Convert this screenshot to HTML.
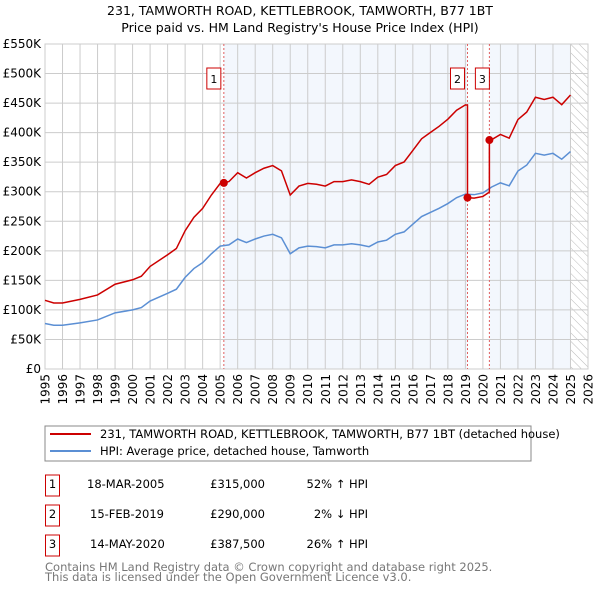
<!DOCTYPE html>
<html><head><meta charset="utf-8"><style>
body{margin:0;background:#fff;font-family:"Liberation Sans","DejaVu Sans",sans-serif;}
svg text{font-family:"DejaVu Sans","Liberation Sans",sans-serif;}
</style></head><body>
<svg id="c" width="600" height="590" viewBox="0 0 600 590">
<text x="300" y="15" text-anchor="middle" font-size="12.5">231, TAMWORTH ROAD, KETTLEBROOK, TAMWORTH, B77 1BT</text>
<text x="300" y="32" text-anchor="middle" font-size="12.5">Price paid vs. HM Land Registry's House Price Index (HPI)</text>
<defs><pattern id="h" width="6" height="6" patternUnits="userSpaceOnUse" patternTransform="rotate(-45)"><line x1="0" y1="0" x2="0" y2="6" stroke="#bbb" stroke-width="1"/></pattern></defs>
<g id="plot"></g>
<rect x="45" y="426" width="486" height="35" fill="#fff" stroke="#888"/>
<line x1="50" y1="434" x2="91" y2="434" stroke="#cc0000" stroke-width="2"/>
<text x="100" y="438" font-size="11.5">231, TAMWORTH ROAD, KETTLEBROOK, TAMWORTH, B77 1BT (detached house)</text>
<line x1="50" y1="451" x2="91" y2="451" stroke="#5b8fd4" stroke-width="2"/>
<text x="100" y="455" font-size="11.5">HPI: Average price, detached house, Tamworth</text>
<g font-size="11.5">
<rect x="45.5" y="475" width="14" height="21" fill="none" stroke="#cc0000"/><text x="52.5" y="488" text-anchor="middle">1</text>
<text x="87" y="488">18-MAR-2005</text><text x="265" y="488" text-anchor="end">£315,000</text><text x="368" y="488" text-anchor="end">52% ↑ HPI</text>
<rect x="45.5" y="505" width="14" height="21" fill="none" stroke="#cc0000"/><text x="52.5" y="518" text-anchor="middle">2</text>
<text x="90" y="518">15-FEB-2019</text><text x="265" y="518" text-anchor="end">£290,000</text><text x="368" y="518" text-anchor="end">2% ↓ HPI</text>
<rect x="45.5" y="535" width="14" height="21" fill="none" stroke="#cc0000"/><text x="52.5" y="548" text-anchor="middle">3</text>
<text x="90" y="548">14-MAY-2020</text><text x="265" y="548" text-anchor="end">£387,500</text><text x="368" y="548" text-anchor="end">26% ↑ HPI</text>
</g>
<text x="45" y="571" font-size="11.5" fill="#777">Contains HM Land Registry data © Crown copyright and database right 2025.</text>
<text x="45" y="581" font-size="11.5" fill="#777">This data is licensed under the Open Government Licence v3.0.</text>
</svg>
<script>
const hpiYears=[1995,1995.5,1996,1997,1998,1999,2000,2000.5,2001,2002,2002.5,2003,2003.5,2004,2004.5,2005,2005.5,2006,2006.5,2007,2007.5,2008,2008.5,2009,2009.5,2010,2010.5,2011,2011.5,2012,2012.5,2013,2013.5,2014,2014.5,2015,2015.5,2016,2016.5,2017,2017.5,2018,2018.5,2019,2019.5,2020,2020.5,2021,2021.5,2022,2022.5,2023,2023.5,2024,2024.5,2025];
const hpiValues=[77,74,74,78,83,95,100,104,115,128,135,155,170,180,195,208,210,220,214,220,225,228,222,195,205,208,207,205,210,210,212,210,207,215,218,228,232,245,258,265,272,280,290,296,295,298,308,315,310,335,345,365,362,365,355,368];
const saleYears=[2005.21,2019.12,2020.37];
const salePrices=[315,290,387.5];
const saleRatios=[1.51,0.98,1.26];
const yTicks=[0,50,100,150,200,250,300,350,400,450,500,550];
const xTicks=[1995,1996,1997,1998,1999,2000,2001,2002,2003,2004,2005,2006,2007,2008,2009,2010,2011,2012,2013,2014,2015,2016,2017,2018,2019,2020,2021,2022,2023,2024,2025,2026];
const L=45,R=588,T=44,B=369;
const X=y=>L+(y-1995)/(2026-1995)*(R-L);
const Y=v=>B-v/550*(B-T);
const g=document.getElementById('plot');
const NS='http://www.w3.org/2000/svg';
function mk(t,a,n){const e=document.createElementNS(NS,t);for(const k in a)e.setAttribute(k,a[k]);


g.appendChild(e);return e;}
mk('rect',{x:X(saleYears[0]),y:T,width:X(saleYears[1])-X(saleYears[0]),height:B-T,fill:'#eef3fc',opacity:0.7},'shade-1');
mk('rect',{x:X(saleYears[2]),y:T,width:X(2025)-X(saleYears[2]),height:B-T,fill:'#eef3fc',opacity:0.7},'shade-2');
mk('rect',{x:X(2025),y:T,width:R-X(2025),height:B-T,fill:'url(#h)'},'forecast-hatch');
yTicks.forEach(v=>{mk('line',{x1:L,x2:R,y1:Y(v),y2:Y(v),stroke:'#ccc'},'y-gridline');
const t=mk('text',{x:L-4,y:Y(v)+4,'text-anchor':'end','font-size':12},'y-tick-label');t.textContent='£'+(v?v+'K':'0');});
xTicks.forEach(y=>{mk('line',{x1:X(y),x2:X(y),y1:T,y2:B,stroke:'#ccc'},'x-gridline');
const t=mk('text',{x:0,y:0,'text-anchor':'end','font-size':12,transform:'translate('+(X(y)+4.5)+',374) rotate(-90)'},'x-tick-label');t.textContent=y;});
mk('rect',{x:L,y:T,width:R-L,height:B-T,fill:'none',stroke:'#ccc'},'plot-border');
saleYears.forEach((s,i)=>{mk('line',{x1:X(s),x2:X(s),y1:T,y2:B,stroke:'#e06060','stroke-dasharray':'2,2'},'sale-marker-line');
const bx=X(s)-(i==2?13:16);
mk('rect',{x:bx-1,y:68,width:14,height:21,fill:'#fff',stroke:'#cc0000'},'sale-marker-box');
const t=mk('text',{x:bx+6,y:83,'text-anchor':'middle','font-size':11},'sale-marker-label');t.textContent=i+1;});
mk('polyline',{points:hpiYears.map((y,i)=>X(y)+','+Y(hpiValues[i])).join(' '),fill:'none',stroke:'#5b8fd4','stroke-width':1.5},'hpi-line');
function hpiAt(y){for(let i=1;i<hpiYears.length;i++)if(y<=hpiYears[i]){const f=(y-hpiYears[i-1])/(hpiYears[i]-hpiYears[i-1]);return hpiValues[i-1]+f*(hpiValues[i]-hpiValues[i-1]);}return hpiValues[hpiValues.length-1];}
const pts=[];
hpiYears.forEach((y,i)=>{let r=y<saleYears[1]?saleRatios[0]:y<saleYears[2]?saleRatios[1]:saleRatios[2];
if(y>saleYears[1]&&pts.length&&pts.every(p=>p[0]<saleYears[1])){pts.push([saleYears[1],hpiAt(saleYears[1])*saleRatios[0]]);pts.push([saleYears[1],salePrices[1]]);}
if(y>saleYears[2]&&!pts.some(p=>p[0]==saleYears[2])){pts.push([saleYears[2],hpiAt(saleYears[2])*saleRatios[1]]);pts.push([saleYears[2],salePrices[2]]);}
pts.push([y,hpiValues[i]*r]);});
mk('polyline',{points:pts.map(p=>X(p[0])+','+Y(p[1])).join(' '),fill:'none',stroke:'#cc0000','stroke-width':1.5},'property-price-line');
saleYears.forEach((s,i)=>mk('circle',{cx:X(s),cy:Y(salePrices[i]),r:4,fill:'#cc0000'},'sale-point'));
</script>
</body></html>
